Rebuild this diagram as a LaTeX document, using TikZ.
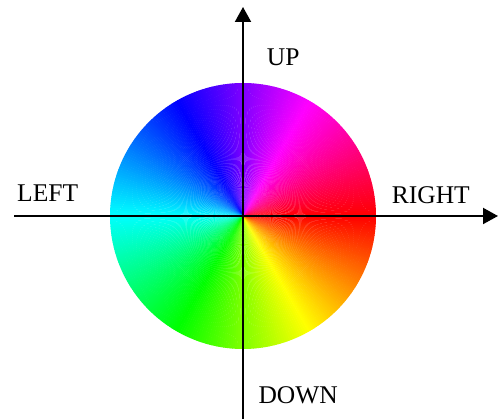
\documentclass[tikz,border=0pt]{standalone}
\usepackage{fontspec}
\setmainfont{Liberation Serif}
\usetikzlibrary{arrows.meta}
\begin{document}
\begin{tikzpicture}[x=1pt,y=1pt,
  axis/.style={line width=2pt,-{Triangle[length=15pt,width=16pt]}},
  lbl/.style={anchor=base west,inner sep=0pt,font=\fontsize{25.5}{28}\selectfont}]
\useasboundingbox (0,0) rectangle (501,419);
\coordinate (c) at (243,203);
\foreach \a in {0,...,359}{
  \pgfmathsetmacro\h{mod(360-\a,360)}
  \definecolor{wc}{Hsb}{\h,1,1}
  \fill[wc] (c) -- ++(\a-0.6:133) arc[start angle=\a-0.6,end angle=\a+0.6,radius=133] -- cycle;
}
\coordinate (bot) at (243,0);
\coordinate (top) at (243,412);
\coordinate (lft) at (14,203);
\coordinate (rgt) at (498,203);
\draw[axis] (bot) -- (top);
\draw[axis] (lft) -- (rgt);
\node[lbl] (up) at (266.7,353.3) {UP};
\node[lbl] (left) at (17,217.5) {LEFT};
\node[lbl] (right) at (391.7,215.7) {RIGHT};
\node[lbl] (down) at (258.3,15.7) {DOWN};
\end{tikzpicture}
\end{document}
